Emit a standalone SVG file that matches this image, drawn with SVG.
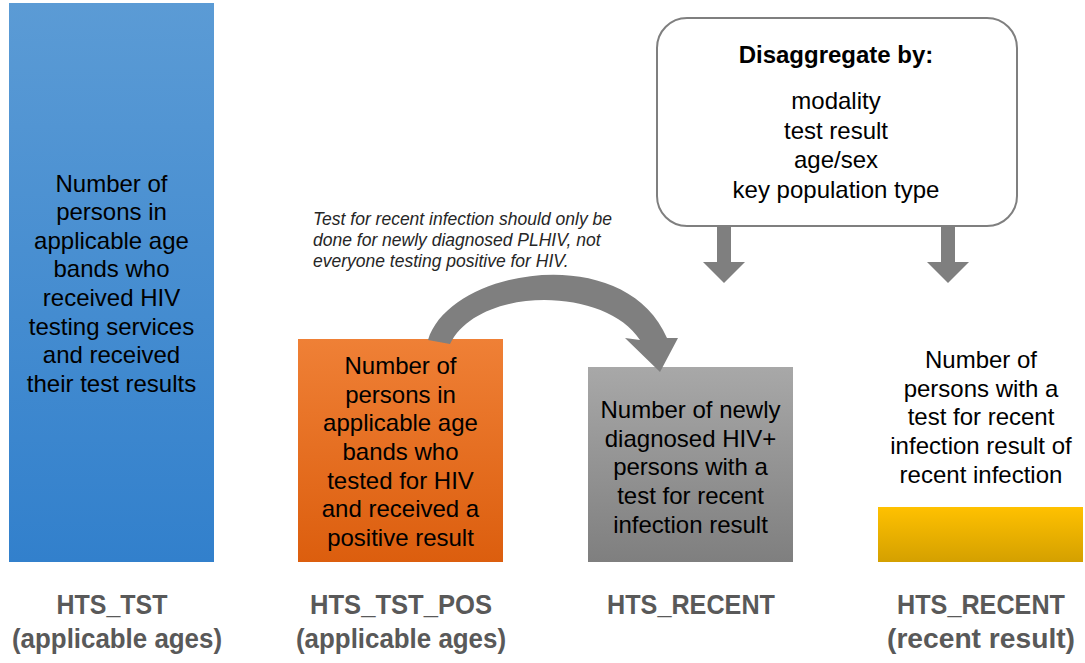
<svg xmlns="http://www.w3.org/2000/svg" width="1085" height="663" viewBox="0 0 1085 663">
<defs>
<linearGradient id="gBlue" x1="0" y1="0" x2="0" y2="1"><stop offset="0" stop-color="#5b9bd5"/><stop offset="1" stop-color="#3280cc"/></linearGradient>
<linearGradient id="gOrange" x1="0" y1="0" x2="0" y2="1"><stop offset="0" stop-color="#ef8036"/><stop offset="1" stop-color="#dc5e0e"/></linearGradient>
<linearGradient id="gGray" x1="0" y1="0" x2="0" y2="1"><stop offset="0" stop-color="#a8a8a8"/><stop offset="1" stop-color="#7f7f7f"/></linearGradient>
<linearGradient id="gYellow" x1="0" y1="0" x2="0" y2="1"><stop offset="0" stop-color="#ffc100"/><stop offset="1" stop-color="#d4a000"/></linearGradient>
<style>
.t{font-family:"Liberation Sans",Arial,sans-serif;font-size:24px;fill:#000;text-anchor:middle}
.b{font-weight:bold}
.note{font-family:"Liberation Sans",Arial,sans-serif;font-size:17.5px;font-style:italic;fill:#262626}
.lab{font-family:"Liberation Sans Narrow","Liberation Sans",Arial,sans-serif;font-size:28px;font-weight:bold;fill:#595959;text-anchor:middle}
.arrow{fill:#7f7f7f}
</style>
</defs>
<rect width="1085" height="663" fill="#fff"/>

<g id="hts_tst">
<rect x="9" y="3" width="205" height="559" fill="url(#gBlue)"/>
<text class="t"><tspan x="111.5" y="192">Number of</tspan><tspan x="111.5" y="220">persons in</tspan><tspan x="111.5" y="249">applicable age</tspan><tspan x="111.5" y="277">bands who</tspan><tspan x="111.5" y="306">received HIV</tspan><tspan x="111.5" y="335">testing services</tspan><tspan x="111.5" y="363">and received</tspan><tspan x="111.5" y="392">their test results</tspan></text>
</g>

<g id="hts_tst_pos">
<rect x="298" y="339" width="205" height="223" fill="url(#gOrange)"/>
<text class="t"><tspan x="400.5" y="374">Number of</tspan><tspan x="400.5" y="403">persons in</tspan><tspan x="400.5" y="431">applicable age</tspan><tspan x="400.5" y="460">bands who</tspan><tspan x="400.5" y="489">tested for HIV</tspan><tspan x="400.5" y="517">and received a</tspan><tspan x="400.5" y="546">positive result</tspan></text>
</g>

<g id="hts_recent">
<rect x="588" y="367" width="205" height="195" fill="url(#gGray)"/>
<text class="t"><tspan x="690.5" y="418">Number of newly</tspan><tspan x="690.5" y="447">diagnosed HIV+</tspan><tspan x="690.5" y="475">persons with a</tspan><tspan x="690.5" y="504">test for recent</tspan><tspan x="690.5" y="533">infection result</tspan></text>
</g>

<g id="hts_recent_result">
<rect x="878" y="507" width="205" height="55" fill="url(#gYellow)"/>
<text class="t"><tspan x="981" y="368">Number of</tspan><tspan x="981" y="397">persons with a</tspan><tspan x="981" y="425">test for recent</tspan><tspan x="981" y="454">infection result of</tspan><tspan x="981" y="483">recent infection</tspan></text>
</g>

<g id="disaggregate">
<rect x="657" y="18" width="360" height="208" rx="30" ry="30" fill="#fff" stroke="#7f7f7f" stroke-width="2"/>
<text class="t b" x="836" y="63">Disaggregate by:</text>
<text class="t"><tspan x="836" y="109">modality</tspan><tspan x="836" y="139">test result</tspan><tspan x="836" y="168">age/sex</tspan><tspan x="836" y="198">key population type</tspan></text>
</g>

<g id="note">
<text class="note"><tspan x="313" y="225">Test for recent infection should only be</tspan><tspan x="313" y="246">done for newly diagnosed PLHIV, not</tspan><tspan x="313" y="267">everyone testing positive for HIV.</tspan></text>
</g>

<g id="labels">
<text class="lab" x="112" y="614" textLength="111" lengthAdjust="spacingAndGlyphs">HTS_TST</text>
<text class="lab" x="117" y="648" textLength="210" lengthAdjust="spacingAndGlyphs">(applicable ages)</text>
<text class="lab" x="401" y="614" textLength="182" lengthAdjust="spacingAndGlyphs">HTS_TST_POS</text>
<text class="lab" x="401" y="648" textLength="210" lengthAdjust="spacingAndGlyphs">(applicable ages)</text>
<text class="lab" x="691" y="614" textLength="168" lengthAdjust="spacingAndGlyphs">HTS_RECENT</text>
<text class="lab" x="981" y="614" textLength="168" lengthAdjust="spacingAndGlyphs">HTS_RECENT</text>
<text class="lab" x="981" y="648" textLength="188" lengthAdjust="spacingAndGlyphs">(recent result)</text>
</g>

<g id="connectors">
<path class="arrow" d="M 428 340 C 450 268 625 240 667 338 L 678 338 L 660 372 L 625 338 L 640 340 C 605 286 478 286 450 344 Z"/>
<polygon class="arrow" points="717,226 731,226 731,262 745,262 724,283 703,262 717,262"/>
<polygon class="arrow" points="941,226 955,226 955,262 969,262 948,283 927,262 941,262"/>
</g>
</svg>
